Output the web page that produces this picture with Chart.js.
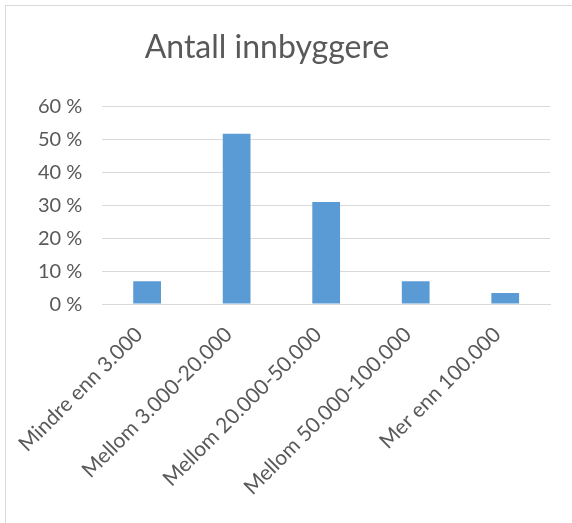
<!DOCTYPE html>
<html>
<head>
<meta charset="utf-8">
<script src="https://cdn.jsdelivr.net/npm/chart.js@4"></script>
<style>
	html, body { margin: 0; padding: 0; background: #fff; }
	#frame {
		position: absolute; left: 5px; top: 5px;
		width: 600px; height: 600px;
		border: 1px solid #d9d9d9;
	}
	#chart { position: absolute; left: 0; top: 0; }
</style>
</head>
<body>
<div id="frame"></div>
<canvas id="chart" width="572" height="523"></canvas>
<script>
	// Antall innbyggere (andel av svar)
	var categories = ['Mindre enn 3.000', 'Mellom 3.000-20.000', 'Mellom 20.000-50.000', 'Mellom 50.000-100.000', 'Mer enn 100.000'];
	var shares = [6.9, 51.7, 31.0, 6.9, 3.4];
	var yTicks = [0, 10, 20, 30, 40, 50, 60];

	var textColor = '#595959';
	var gridColor = '#d9d9d9';

	// title sits a bit left of the plot centre, like in the Excel frame
	var shiftTitle = {
		id: 'shiftTitle',
		afterLayout: function (chart) {
			if (chart.titleBlock) chart.titleBlock.right -= 34;
		},
	};

	var ctx = document.getElementById('chart').getContext('2d');
	new Chart(ctx, {
		type: 'bar',
		data: {
			labels: categories,
			datasets: [
				{
					label: 'Antall innbyggere',
					data: shares,
					backgroundColor: '#5b9bd5',
					borderWidth: 0,
					barPercentage: 0.31,
					categoryPercentage: 1,
				},
			],
		},
		options: {
			responsive: false,
			animation: false,
			layout: {
				padding: { left: 18, right: 22, top: 8, bottom: 5 },
			},
			plugins: {
				legend: { display: false },
				tooltip: { enabled: false },
				title: {
					display: true,
					text: 'Antall innbyggere',
					color: textColor,
					font: { family: 'Lato', size: 32, weight: 'normal' },
					padding: { top: 20, bottom: 40 },
				},
			},
			scales: {
				x: {
					grid: { display: false, drawTicks: false },
					border: { color: gridColor, width: 1 },
					ticks: {
						color: textColor,
						font: { family: 'Lato', size: 21 },
						maxRotation: 45,
						minRotation: 45,
						padding: 18,
						labelOffset: -8,
					},
				},
				y: {
					min: 0,
					max: 60,
					afterBuildTicks: function (axis) {
						axis.ticks = yTicks.map(function (v) { return { value: v }; });
					},
					grid: { color: gridColor, lineWidth: 1, drawTicks: false },
					border: { display: false },
					ticks: {
						color: textColor,
						font: { family: 'Lato', size: 20 },
						padding: 20,
						callback: function (v) { return v + ' %'; },
					},
				},
			},
		},
		plugins: [shiftTitle],
	});
</script>
</body>
</html>
